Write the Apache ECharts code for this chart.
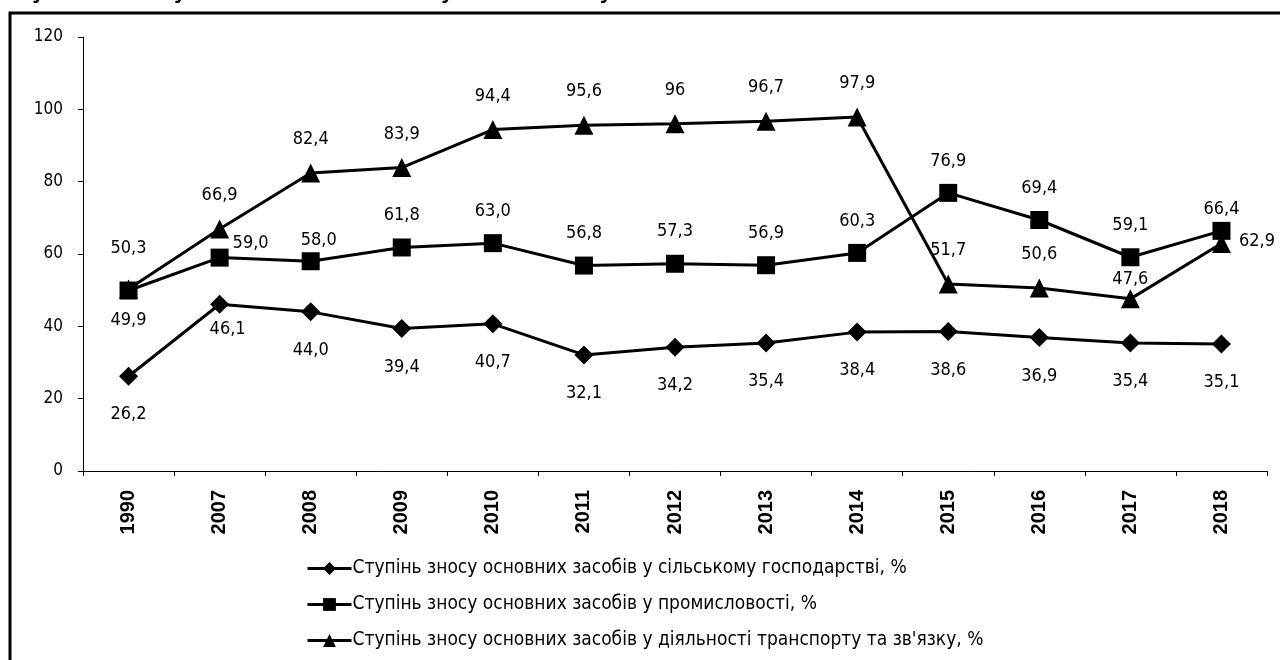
<!DOCTYPE html>
<html>
<head>
<meta charset="utf-8">
<script src="https://cdn.jsdelivr.net/npm/echarts@6/dist/echarts.min.js"></script>
<style>
  html, body { margin: 0; padding: 0; background: #fff; }
  #Chart1 { width: 1280px; height: 660px; }
</style>
</head>
<body>
<div id="Chart1"></div>
<script>
const years = ["1990", "2007", "2008", "2009", "2010", "2011", "2012", "2013", "2014", "2015", "2016", "2017", "2018"];
const agriculture = [26.2, 46.1, 44.0, 39.4, 40.7, 32.1, 34.2, 35.4, 38.4, 38.6, 36.9, 35.4, 35.1];
const industry = [49.9, 59.0, 58.0, 61.8, 63.0, 56.8, 57.3, 56.9, 60.3, 76.9, 69.4, 59.1, 66.4];
const transport = [50.3, 66.9, 82.4, 83.9, 94.4, 95.6, 96, 96.7, 97.9, 51.7, 50.6, 47.6, 62.9];
const yTicks = [0, 20, 40, 60, 80, 100, 120];

const names = [
  "Ступінь зносу основних засобів у сільському господарстві, %",
  "Ступінь зносу основних засобів у промисловості, %",
  "Ступінь зносу основних засобів у діяльності транспорту та зв'язку, %",
];

const font = "'DejaVu Sans Condensed', 'DejaVu Sans', sans-serif";

// label placement tweaks, keyed by point index
const labelTweaks = {
  agri: { 1: { position: "bottom", distance: 7, offset: [8, 0] } },
  ind: {
    0: { position: "bottom", distance: 12 },
    1: { position: "right", distance: 4, offset: [0, -14] },
    2: { position: "top", distance: 3, offset: [8, 0] },
    12: { position: "top", distance: 4 },
  },
  trans: {
    0: { position: "top", distance: 22 },
    11: { position: "top", distance: 1 },
    12: { position: "right", distance: 8, offset: [0, -2] },
  },
};

function fmt(v) {
  return v === 96 ? "96" : v.toFixed(1).replace(".", ",");
}

function build(values, pos, dist, tweaks) {
  return values.map((v, i) => ({
    value: v,
    label: Object.assign({ position: pos, distance: dist }, tweaks[i] || {}),
  }));
}

const myChart = echarts.init(document.getElementById("Chart1"));

const baseLabel = {
  show: true,
  color: "#000",
  fontFamily: font,
  fontSize: 18,
  formatter: (p) => fmt(p.value),
};

const option = {
  backgroundColor: "#fff",
  animation: false,
  graphic: [
    {
      type: "text",
      left: -2,
      top: -25,
      style: {
        text: "Ступінь зносу основних засобів у сільському",
        font: "29px " + font,
        fill: "#000",
      },
    },
    {
      type: "rect",
      shape: { x: 10, y: 13, width: 1300, height: 700 },
      style: { fill: "none", stroke: "#000", lineWidth: 3 },
    },
  ],
  grid: { left: 83, right: 13, top: 37, bottom: 189 },
  legend: {
    orient: "vertical",
    left: 306,
    top: 559,
    height: 101,
    padding: 0,
    itemWidth: 44,
    itemHeight: 16,
    itemGap: 17,
    lineStyle: { width: 3 },
    textStyle: { color: "#000", fontFamily: font, fontSize: 19, padding: [0, 0, 0, -4] },
    data: names,
  },
  xAxis: {
    type: "category",
    data: years,
    axisLine: { lineStyle: { color: "#000", width: 1 } },
    axisTick: { show: true, length: 5, lineStyle: { color: "#000" } },
    axisLabel: {
      rotate: 90,
      color: "#000",
      fontFamily: "'Liberation Sans', Arial, sans-serif",
      fontWeight: "bold",
      fontSize: 20,
      margin: 19,
    },
  },
  yAxis: {
    type: "value",
    min: yTicks[0],
    max: yTicks[yTicks.length - 1],
    interval: 20,
    splitLine: { show: false },
    axisLine: { show: true, lineStyle: { color: "#000", width: 1 } },
    axisTick: { show: true, length: 5, lineStyle: { color: "#000" } },
    axisLabel: { color: "#000", fontFamily: font, fontSize: 17, margin: 20 },
  },
  series: [
    {
      name: names[0],
      type: "line",
      data: build(agriculture, "bottom", 20, labelTweaks.agri),
      symbol: "diamond",
      symbolSize: 19,
      lineStyle: { color: "#000", width: 3 },
      itemStyle: { color: "#000" },
      label: baseLabel,
      z: 3,
    },
    {
      name: names[1],
      type: "line",
      data: build(industry, "top", 14, labelTweaks.ind),
      symbol: "rect",
      symbolSize: 18,
      lineStyle: { color: "#000", width: 3 },
      itemStyle: { color: "#000" },
      label: baseLabel,
      z: 4,
    },
    {
      name: names[2],
      type: "line",
      data: build(transport, "top", 15, labelTweaks.trans),
      symbol: "triangle",
      symbolSize: 19,
      lineStyle: { color: "#000", width: 3 },
      itemStyle: { color: "#000" },
      label: baseLabel,
      z: 3,
    },
  ],
};

myChart.setOption(option);
</script>
</body>
</html>
